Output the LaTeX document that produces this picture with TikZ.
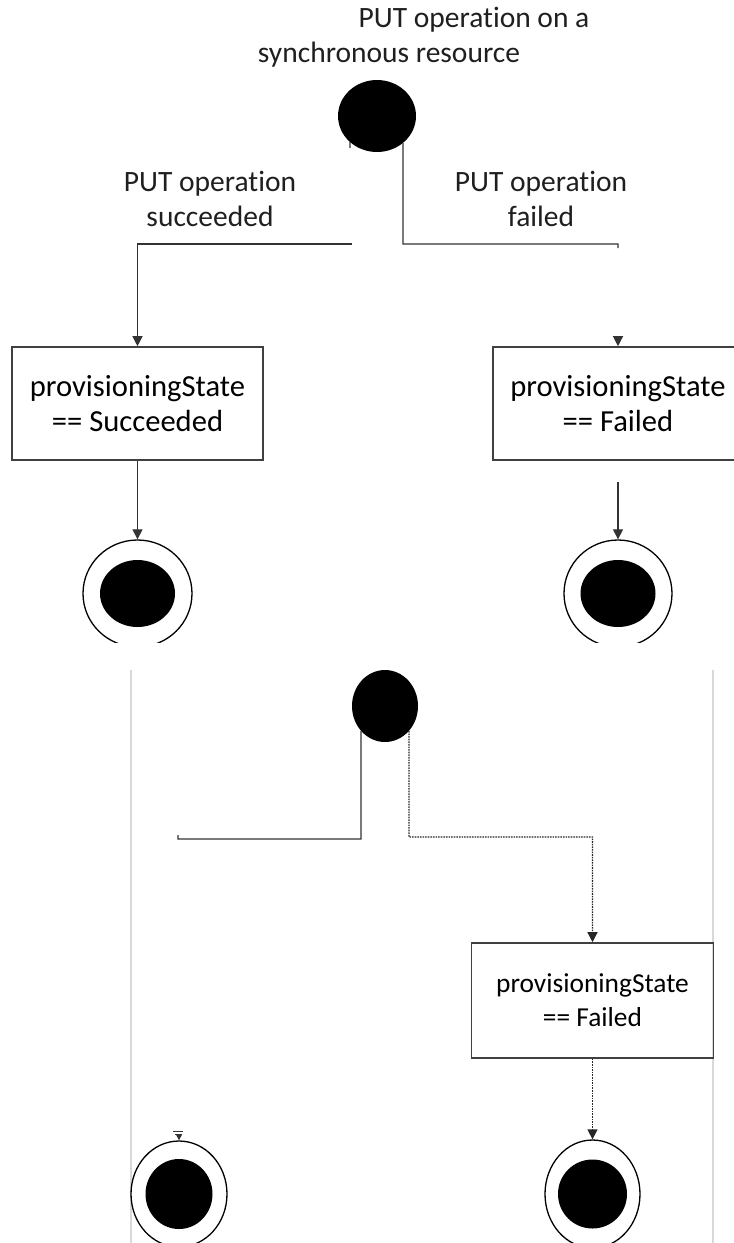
\documentclass[tikz,border=0pt]{standalone}
\usepackage{fontspec}
\setmainfont[Ligatures={NoCommon}]{Carlito}
\usetikzlibrary{arrows.meta,shapes.geometric}
\begin{document}
\begin{tikzpicture}[x=1pt,y=-1pt,
  conn/.style={draw=black!80, line width=1.2pt},
  dotconn/.style={draw=black!85, line width=1.3pt, dash pattern=on 1.6pt off 1pt},
  tip/.style={-{Triangle[length=10pt,width=10pt]}},
  statebox/.style={draw=black!75, line width=1.6pt, rectangle, inner sep=0pt, align=center, text=black},
  initdot/.style={ellipse, fill=black, inner sep=0pt},
  finalring/.style={ellipse, draw=black, line width=1.3pt, fill=white, inner sep=0pt},
  finaldot/.style={ellipse, fill=black, inner sep=0pt},
  lbl/.style={align=center, text=black!88, font=\fontsize{29.5}{35}\selectfont, inner sep=0pt},
  framelne/.style={draw=black!15, line width=1.5pt}
]
\useasboundingbox (0,0) rectangle (734,1243);
\clip (0,0) rectangle (734,1243);

% ---------- upper diagram ----------
\node[lbl, anchor=base] (title1) at (474,27) {PUT operation on a};
\node[lbl, anchor=base] (title2) at (389,62) {synchronous resource};

\node[initdot, minimum width=78pt, minimum height=72pt] (init1) at (377,116) {};

\node[lbl] (lsucc) at (210,199) {PUT operation\\succeeded};
\node[lbl] (lfail) at (541,199) {PUT operation\\failed};

\node[statebox, minimum width=251pt, minimum height=113pt, font=\fontsize{30.6}{35}\selectfont] (sbox) at (137.5,403.5) {provisioningState\\== Succeeded};
\node[statebox, minimum width=250pt, minimum height=113pt, font=\fontsize{30.6}{35}\selectfont] (fbox) at (618,403.5) {provisioningState\\== Failed};

\begin{scope}
  \clip (0,0) rectangle (734,642);
  \node[finalring, minimum width=109pt, minimum height=107pt] (final1) at (137.5,593.5) {};
  \node[finaldot, minimum width=75pt, minimum height=67pt] (final1d) at (137.5,593.5) {};
  \node[finalring, minimum width=108pt, minimum height=107pt] (final2) at (618,593.5) {};
  \node[finaldot, minimum width=75pt, minimum height=67pt] (final2d) at (618,593.5) {};
\end{scope}

\coordinate (stub) at (350,148);
\draw[conn] (init1.224) -- (stub);
\coordinate (rend) at (618,248);
\draw[conn] (init1.-46) -- (403,244) -- (618,244) -- (rend);
\coordinate (lstart) at (352,244);
\draw[conn, tip] (lstart) -- (137.5,244) -- (sbox.north);
\coordinate (ftipstart) at (618,337);
\draw[conn, tip] (ftipstart) -- (fbox.north);
\draw[conn, tip] (sbox.south) -- (final1.north);
\coordinate (fgap) at (618,482);
\draw[conn, tip] (fgap) -- (final2.north);

% ---------- lower diagram ----------
\draw[framelne] (131,670) -- (131,1243);
\draw[framelne] (713,670) -- (713,1243);

\node[initdot, minimum width=66pt, minimum height=72pt] (init2) at (385,706) {};

\node[statebox, minimum width=242pt, minimum height=115pt, font=\fontsize{27.4}{34}\selectfont] (fbox2) at (592.5,1000.5) {provisioningState\\== Failed};

\node[finalring, minimum width=96pt, minimum height=106pt] (final3) at (179,1194) {};
\node[finaldot, minimum width=67pt, minimum height=70pt] (final3d) at (179,1194) {};
\node[finalring, minimum width=95pt, minimum height=108pt] (final4) at (592.5,1194) {};
\node[finaldot, minimum width=69pt, minimum height=69pt] (final4d) at (592.5,1194) {};

\coordinate (lend2) at (178,835);
\draw[conn] (init2.226) -- (361,839) -- (178,839) -- (lend2);
\draw[dotconn, tip] (init2.-46) -- (409,837) -- (592.5,837) -- (fbox2.north);
\draw[dotconn, tip] (fbox2.south) -- (final4.north);

\draw[conn, line width=1pt] (173,1131) -- (183,1131);
\draw[conn, line width=1pt] (174.5,1134) -- (181.5,1134);
\coordinate (gl) at (179,1135);
\draw[conn, line width=1pt, -{Triangle[length=6pt,width=6pt]}] (gl) -- (final3.north);
\end{tikzpicture}
\end{document}
